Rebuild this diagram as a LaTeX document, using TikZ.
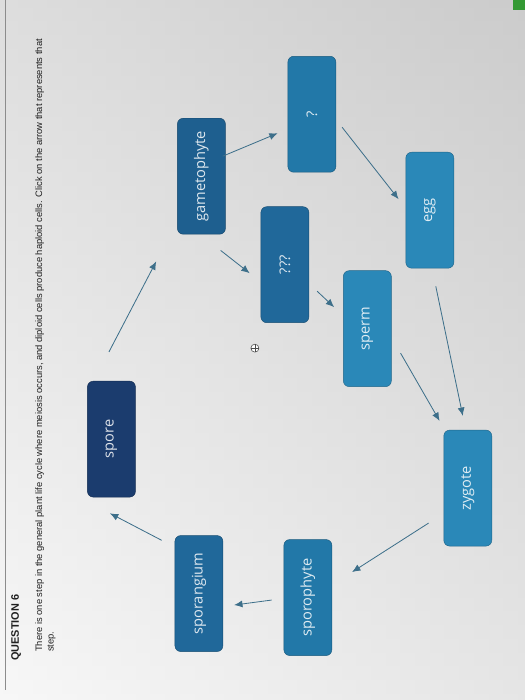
\documentclass[tikz,border=0pt]{standalone}
\usepackage{fontspec}
\setmainfont{Liberation Sans}
\newfontfamily\cellfont{Open Sans}
\usetikzlibrary{arrows.meta}
\definecolor{navy}{HTML}{1B3C6E}
\definecolor{bluea}{HTML}{1E5F8F}
\definecolor{blueb}{HTML}{20689A}
\definecolor{bluec}{HTML}{2278A8}
\definecolor{blued}{HTML}{2A88B8}
\definecolor{arrowc}{HTML}{3D6F8A}
\definecolor{inktext}{HTML}{202020}
\tikzset{
  cell/.style={rotate=90, draw=#1!75!black, fill=#1, rounded corners=5pt,
    minimum width=3.48cm, minimum height=1.44cm, inner sep=0pt,
    text=white!85!#1, font=\cellfont\fontsize{12.5}{14}\selectfont},
  arr/.style={arrowc, line width=0.7pt, -{Latex[length=2.5mm,width=2.1mm]}}
}
\begin{document}
\begin{tikzpicture}[x=0.03cm, y=-0.03cm]
	\shade[left color=black!6, right color=black!20] (0,0) rectangle (525,700);
	\shade[top color=black!20, bottom color=white, opacity=0.5] (0,0) rectangle (525,700);
	\fill[green!50!black!80] (513,0) rectangle (525,10);
	\draw[black!45, line width=0.5pt] (5,0) -- (5,690);
	\node[rotate=90, anchor=north west, inner sep=0pt, text=inktext, font=\bfseries\fontsize{9.3}{11}\selectfont] (qtitle) at (11,661) {QUESTION 6};
	\node[rotate=90, anchor=north west, inner sep=0pt, align=left, text=inktext, font=\fontsize{8}{10}\selectfont] (prompt) at (35,652) {There is one step in the general plant life cycle where meiosis occurs, and diploid cells produce haploid cells. Click on the arrow that represents that\\step.};
	\node[cell=navy] (spore) at (111.5,439) {spore};
	\node[cell=bluea] (gameto) at (201.5,176) {gametophyte};
	\node[cell=blueb] (sporangium) at (199,593.5) {sporangium};
	\node[cell=bluec] (sporo) at (308,597.5) {sporophyte};
	\node[cell=bluec] (q) at (312,114) {?};
	\node[cell=blueb] (qqq) at (285,264.5) {???};
	\node[cell=blued] (egg) at (430,210) {egg};
	\node[cell=blued] (sperm) at (367.5,328.5) {sperm};
	\node[cell=blued] (zygote) at (468,488) {zygote};
	\draw[arr] ([shift={(-12,2.5)}]sporo.north) -- ([shift={(11,11.5)}]sporangium.south);
	\draw[arr] ([shift={(-13,5)}]sporangium.north east) -- ([shift={(-1.5,16)}]spore.west);
	\draw[arr] ([shift={(-2.5,-29)}]spore.east) -- ([shift={(-21,27)}]gameto.north west);
	\draw[arr] ([shift={(-5,16)}]gameto.south west) -- ([shift={(-11,8.5)}]qqq.north);
	\draw[arr] ([shift={(-3,-20)}]gameto.south) -- ([shift={(-10,19)}]q.north);
	\draw[arr] ([shift={(6,13)}]q.south) -- ([shift={(-7,-11)}]egg.north);
	\draw[arr] ([shift={(8,26.5)}]qqq.south) -- ([shift={(-9,-21.5)}]sperm.north);
	\draw[arr] ([shift={(6,18)}]egg.west) -- ([shift={(-5,-14)}]zygote.east);
	\draw[arr] ([shift={(9,24.5)}]sperm.south) -- ([shift={(-4,-9)}]zygote.north east);
	\draw[arr] ([shift={(-15,35)}]zygote.north) -- ([shift={(20,-25.5)}]sporo.south);
	\draw[black!70, fill=white, line width=0.5pt] (255,348) circle (4);
	\draw[black!70, line width=0.5pt] (251,348) -- (259,348) (255,344) -- (255,352);
\end{tikzpicture}
\end{document}
